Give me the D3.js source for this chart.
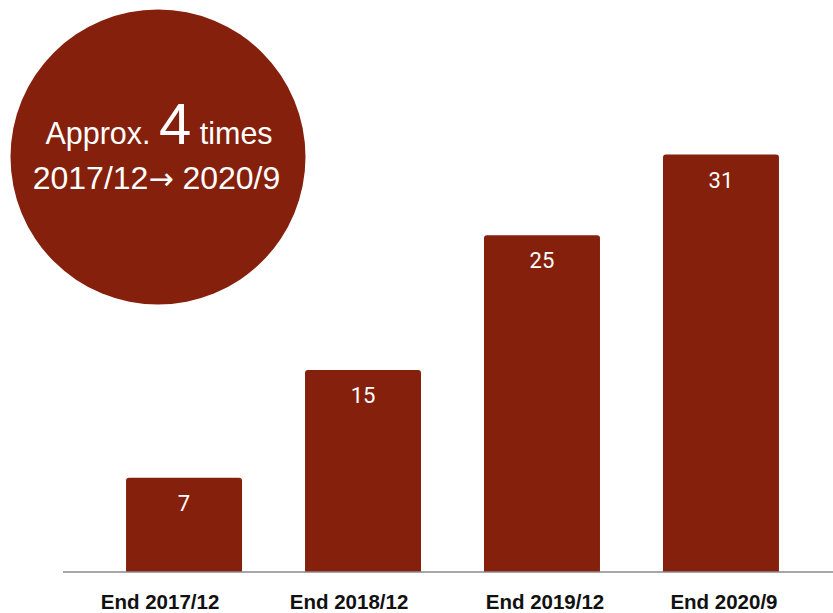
<!DOCTYPE html>
<html>
<head>
<meta charset="utf-8">
<script src="https://cdn.jsdelivr.net/npm/d3@7"></script>
<style>
  body { margin: 0; background: #fff; }
</style>
</head>
<body>
<div id="chart"></div>
<script>
const categories = ["End 2017/12", "End 2018/12", "End 2019/12", "End 2020/9"];
const values = [7, 15, 25, 31];
const badgeLine1 = ["Approx. ", "4", " times"];
const badgeLine2 = ["2017/12", "\u2192", " 2020/9"];

const barColor = "#85200c";

function drawChart() {

    // 1. dimensions
    const dimensions = {
        width: 833,
        height: 613,
        margin: { top: 0, right: 0, bottom: 41, left: 63 },
    };
    const baseline = dimensions.height - dimensions.margin.bottom; // ~572

    // 2. canvas
    const chart = d3.select("#chart")
        .append("svg")
        .attr("width", dimensions.width)
        .attr("height", dimensions.height);

    // 3. scales
    const xScale = d3.scaleBand()
        .domain(categories)
        .range([63.4, 841.6])
        .paddingInner(0.352)
        .paddingOuter(0.35);

    const yScale = d3.scaleLinear()
        .domain([0, 31])
        .range([baseline, 154.5]);

    // 4. bars (rounded top corners only)
    const r = 3;
    const barPath = d => {
        const x0 = xScale(d.cat), x1 = x0 + xScale.bandwidth();
        const y0 = yScale(d.val), y1 = yScale(0);
        return `M${x0},${y1} L${x0},${y0 + r} Q${x0},${y0} ${x0 + r},${y0}`
            + ` L${x1 - r},${y0} Q${x1},${y0} ${x1},${y0 + r} L${x1},${y1} Z`;
    };

    const data = categories.map((c, i) => ({ cat: c, val: values[i] }));

    chart.selectAll("path.bar")
        .data(data)
        .join("path")
        .attr("class", "bar")
        .attr("d", barPath)
        .attr("fill", barColor);

    chart.selectAll("text.value")
        .data(data)
        .join("text")
        .attr("class", "value")
        .attr("x", d => xScale(d.cat) + xScale.bandwidth() / 2)
        .attr("y", d => yScale(d.val) + 33)
        .attr("text-anchor", "middle")
        .style("font-family", "Roboto, sans-serif")
        .style("font-size", "22px")
        .style("fill", "#fff")
        .text(d => d.val);

    // 5. axis
    const xAxis = d3.axisBottom(xScale).tickSize(0).tickPadding(22);
    const axisG = chart.append("g")
        .attr("transform", `translate(0, ${baseline})`)
        .call(xAxis);
    axisG.select(".domain").remove();
    axisG.append("line")
        .attr("x1", dimensions.margin.left)
        .attr("x2", dimensions.width)
        .attr("stroke", "#888")
        .attr("stroke-width", 1.5);

    // labels in the original sit a bit off their bar centres
    const labelShift = [-24, -14, 3, 3];
    axisG.selectAll(".tick text")
        .attr("dx", (d, i) => labelShift[i])
        .style("font-family", "'Liberation Sans', Arial, sans-serif")
        .style("font-size", "20.5px")
        .style("font-weight", "bold")
        .style("fill", "#111");

    // 6. badge circle
    const badge = chart.append("g").attr("transform", "translate(158, 157)");
    badge.append("circle")
        .attr("r", 147.5)
        .attr("fill", barColor);

    const t1 = badge.append("text")
        .attr("x", 1)
        .attr("y", -13)
        .attr("text-anchor", "middle")
        .style("font-family", "'Liberation Sans', Arial, sans-serif")
        .style("fill", "#fff");
    t1.selectAll("tspan")
        .data(badgeLine1)
        .join("tspan")
        .style("font-size", (d, i) => i === 1 ? "58px" : "30.5px")
        .text(d => d);

    const t2 = badge.append("text")
        .attr("x", -1.5)
        .attr("y", 32)
        .attr("text-anchor", "middle")
        .style("font-family", "'Liberation Sans', Arial, sans-serif")
        .style("font-size", "32px")
        .style("fill", "#fff");
    t2.selectAll("tspan")
        .data(badgeLine2)
        .join("tspan")
        .style("font-family", (d, i) => i === 1 ? "'DejaVu Sans', sans-serif" : null)
        .style("font-size", (d, i) => i === 1 ? "30px" : null)
        .text(d => d);
}

drawChart();
</script>
</body>
</html>
